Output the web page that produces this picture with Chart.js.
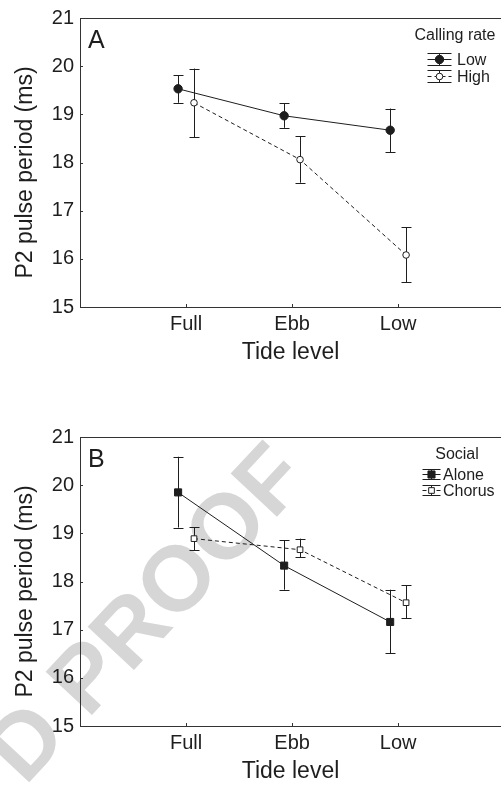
<!DOCTYPE html>
<html>
<head>
<meta charset="utf-8">
<script src="https://cdn.jsdelivr.net/npm/chart.js@4.4.0/dist/chart.umd.min.js"></script>
<style>
  body { margin: 0; background: #fff; width: 501px; height: 785px; overflow: hidden; position: relative; }
  .panel { position: absolute; left: 0; width: 501px; height: 366px; }
  #wm {
    position: absolute; left: 145px; top: 612px;
    font: bold 92px "Liberation Sans", Arial, sans-serif; color: #d6d6d6;
    white-space: nowrap; transform: translate(-50%, -50%) rotate(-47deg);
  }
</style>
</head>
<body>
<div id="wm">D PROOF</div>
<div class="panel" style="top:0px"><canvas id="chartA"></canvas></div>
<div class="panel" style="top:419px"><canvas id="chartB"></canvas></div>
<script>
const tideLevels = ['Full', 'Ebb', 'Low'];
const seriesOffset = 0.075; // groups are shifted a little left/right of the tick

// Panel A - calling rate
const lowRateMean  = [19.53, 18.97, 18.67];
const lowRateUpper = [19.81, 19.23, 19.12];
const lowRateLower = [19.24, 18.72, 18.21];
const highRateMean  = [19.24, 18.06, 16.08];
const highRateUpper = [19.95, 18.55, 16.66];
const highRateLower = [18.52, 17.58, 15.51];

// Panel B - social context
const aloneMean  = [19.85, 18.33, 17.16];
const aloneUpper = [20.59, 18.86, 17.83];
const aloneLower = [19.12, 17.83, 16.51];
const chorusMean  = [18.89, 18.66, 17.56];
const chorusUpper = [19.13, 18.89, 17.92];
const chorusLower = [18.65, 18.50, 17.24];

const yTicks = [15, 16, 17, 18, 19, 20, 21];

const ink = '#1e1e1e';
const fontFam = '"Liberation Sans", Arial, sans-serif';

function toPoints(means, shift) {
  return means.map((m, i) => ({ x: i + 1 + shift, y: m }));
}

function drawMarker(ctx, style, filled, r, x, y) {
  ctx.save();
  ctx.lineWidth = 1;
  ctx.strokeStyle = ink;
  ctx.fillStyle = filled ? ink : '#fff';
  ctx.beginPath();
  if (style === 'circle') {
    ctx.arc(x, y, r, 0, Math.PI * 2);
  } else {
    const s = r * Math.SQRT1_2;
    ctx.rect(x - s, y - s, 2 * s, 2 * s);
  }
  ctx.fill();
  ctx.stroke();
  ctx.restore();
}

// error bars, inward ticks, top frame line and the legend
const extrasPlugin = {
  id: 'extras',
  beforeDatasetsDraw(chart) {
    const { ctx, chartArea, scales: { x, y } } = chart;
    ctx.save();
    ctx.strokeStyle = '#333';
    ctx.lineWidth = 1;
    // top frame
    ctx.beginPath();
    ctx.moveTo(chartArea.left, chartArea.top + 0.5);
    ctx.lineTo(chartArea.right, chartArea.top + 0.5);
    ctx.stroke();
    // inward ticks
    ctx.beginPath();
    x.ticks.forEach(t => {
      const px = Math.round(x.getPixelForValue(t.value)) + 0.5;
      ctx.moveTo(px, chartArea.bottom);
      ctx.lineTo(px, chartArea.bottom - 3);
    });
    y.ticks.forEach(t => {
      const py = Math.round(y.getPixelForValue(t.value)) + 0.5;
      ctx.moveTo(chartArea.left, py);
      ctx.lineTo(chartArea.left + 3, py);
    });
    ctx.stroke();

    // error bars
    ctx.strokeStyle = ink;
    chart.data.datasets.forEach((ds, di) => {
      const meta = chart.getDatasetMeta(di);
      meta.data.forEach((pt, i) => {
        const px = Math.round(pt.x) + 0.5;
        const top = y.getPixelForValue(ds.upper[i]);
        const bot = y.getPixelForValue(ds.lower[i]);
        ctx.beginPath();
        ctx.moveTo(px, top);
        ctx.lineTo(px, bot);
        ctx.moveTo(px - 5, Math.round(top) + 0.5);
        ctx.lineTo(px + 5, Math.round(top) + 0.5);
        ctx.moveTo(px - 5, Math.round(bot) + 0.5);
        ctx.lineTo(px + 5, Math.round(bot) + 0.5);
        ctx.stroke();
      });
    });
    ctx.restore();
  },
  afterDraw(chart, args, opts) {
    const { ctx, chartArea } = chart;
    ctx.save();
    ctx.fillStyle = ink;
    ctx.textBaseline = 'middle';
    // y axis title, sits a bit below the middle of the axis
    ctx.save();
    ctx.font = '23px ' + fontFam;
    ctx.textAlign = 'center';
    ctx.translate(26, (chartArea.top + chartArea.bottom) / 2 + 10);
    ctx.rotate(-Math.PI / 2);
    ctx.fillText('P2 pulse period (ms)', 0, 0);
    ctx.restore();
    // panel letter
    ctx.font = '25px ' + fontFam;
    ctx.textAlign = 'left';
    ctx.fillText(opts.letter, chartArea.left + 8, chartArea.top + 23);
    // legend title
    ctx.font = '16px ' + fontFam;
    ctx.textAlign = 'center';
    ctx.fillText(opts.title, opts.titleX, chartArea.top + opts.titleDy);
    ctx.textAlign = 'left';
    const hw = opts.glyphHalf;
    chart.data.datasets.forEach((ds, i) => {
      const gy = Math.round(chartArea.top + opts.rowDy[i]) + 0.5;
      const gx = Math.round(opts.glyphX) + 0.5;
      ctx.strokeStyle = ink;
      ctx.lineWidth = 1;
      ctx.beginPath();
      ctx.moveTo(gx - hw, gy - opts.cap); ctx.lineTo(gx + hw, gy - opts.cap);
      ctx.moveTo(gx - hw, gy + opts.cap); ctx.lineTo(gx + hw, gy + opts.cap);
      ctx.moveTo(gx, gy - opts.cap); ctx.lineTo(gx, gy + opts.cap);
      ctx.stroke();
      ctx.setLineDash(ds.borderDash || []);
      ctx.beginPath();
      ctx.moveTo(gx - hw, gy); ctx.lineTo(gx + hw, gy);
      ctx.stroke();
      ctx.setLineDash([]);
      drawMarker(ctx, ds.pointStyle, ds.filled, ds.pointRadius, gx, gy);
      ctx.fillText(ds.label, opts.textX, gy + 1);
    });
    ctx.restore();
  }
};

// markers are drawn by the plugin above the error bars
const markerPlugin = {
  id: 'markers',
  afterDatasetsDraw(chart) {
    chart.data.datasets.forEach((ds, di) => {
      chart.getDatasetMeta(di).data.forEach(pt => {
        drawMarker(chart.ctx, ds.pointStyle, ds.filled, ds.pointRadius, pt.x, pt.y);
      });
    });
  }
};

function makeDataset(label, means, upper, lower, shift, style, filled, radius, dash) {
  return {
    label: label,
    data: toPoints(means, shift),
    upper: upper,
    lower: lower,
    showLine: true,
    borderColor: ink,
    borderWidth: 1,
    borderDash: dash,
    pointStyle: style,
    filled: filled,
    pointRadius: radius,
    pointBackgroundColor: 'rgba(0,0,0,0)',
    pointBorderColor: 'rgba(0,0,0,0)',
    fill: false,
    tension: 0
  };
}

function makeChart(id, datasets, legendOpts) {
  return new Chart(document.getElementById(id), {
    type: 'scatter',
    data: { datasets: datasets },
    options: {
      responsive: true,
      maintainAspectRatio: false,
      animation: false,
      layout: { autoPadding: false, padding: { top: 17, right: 0, bottom: 0, left: 0 } },
      scales: {
        x: {
          type: 'linear',
          min: 0,
          max: 3.97,
          afterBuildTicks: s => { s.ticks = tideLevels.map((_, i) => ({ value: i + 1 })); },
          afterFit: s => { s.height = 59; s.paddingLeft = 0; s.paddingRight = 0; },
          grid: { display: false, drawTicks: false },
          border: { display: true, color: '#333', width: 1 },
          ticks: {
            callback: v => tideLevels[v - 1],
            font: { family: fontFam, size: 20 },
            color: ink,
            padding: 5,
            maxRotation: 0
          },
          title: {
            display: true,
            text: 'Tide level',
            font: { family: fontFam, size: 23 },
            color: ink,
            padding: { top: 0, bottom: 0 }
          }
        },
        y: {
          min: 15,
          max: 21,
          afterBuildTicks: s => { s.ticks = yTicks.map(v => ({ value: v })); },
          afterFit: s => { s.width = 80; },
          grid: { display: false, drawTicks: false },
          border: { display: true, color: '#333', width: 1 },
          ticks: {
            font: { family: fontFam, size: 20 },
            color: ink,
            padding: 6
          }
        }
      },
      plugins: {
        legend: { display: false },
        tooltip: { enabled: false },
        extras: legendOpts
      }
    },
    plugins: [extrasPlugin, markerPlugin]
  });
}

makeChart('chartA', [
  makeDataset('Low', lowRateMean, lowRateUpper, lowRateLower, -seriesOffset, 'circle', true, 4.2, []),
  makeDataset('High', highRateMean, highRateUpper, highRateLower, seriesOffset, 'circle', false, 3.3, [4, 3])
], { letter: 'A', title: 'Calling rate', titleX: 455, titleDy: 18, glyphX: 439, textX: 457, rowDy: [41, 58], glyphHalf: 12, cap: 6 });

makeChart('chartB', [
  makeDataset('Alone', aloneMean, aloneUpper, aloneLower, -seriesOffset, 'rect', true, 5, []),
  makeDataset('Chorus', chorusMean, chorusUpper, chorusLower, seriesOffset, 'rect', false, 4, [4, 3])
], { letter: 'B', title: 'Social', titleX: 457, titleDy: 18, glyphX: 431, textX: 443, rowDy: [37, 53], glyphHalf: 9, cap: 5 });
</script>
</body>
</html>
